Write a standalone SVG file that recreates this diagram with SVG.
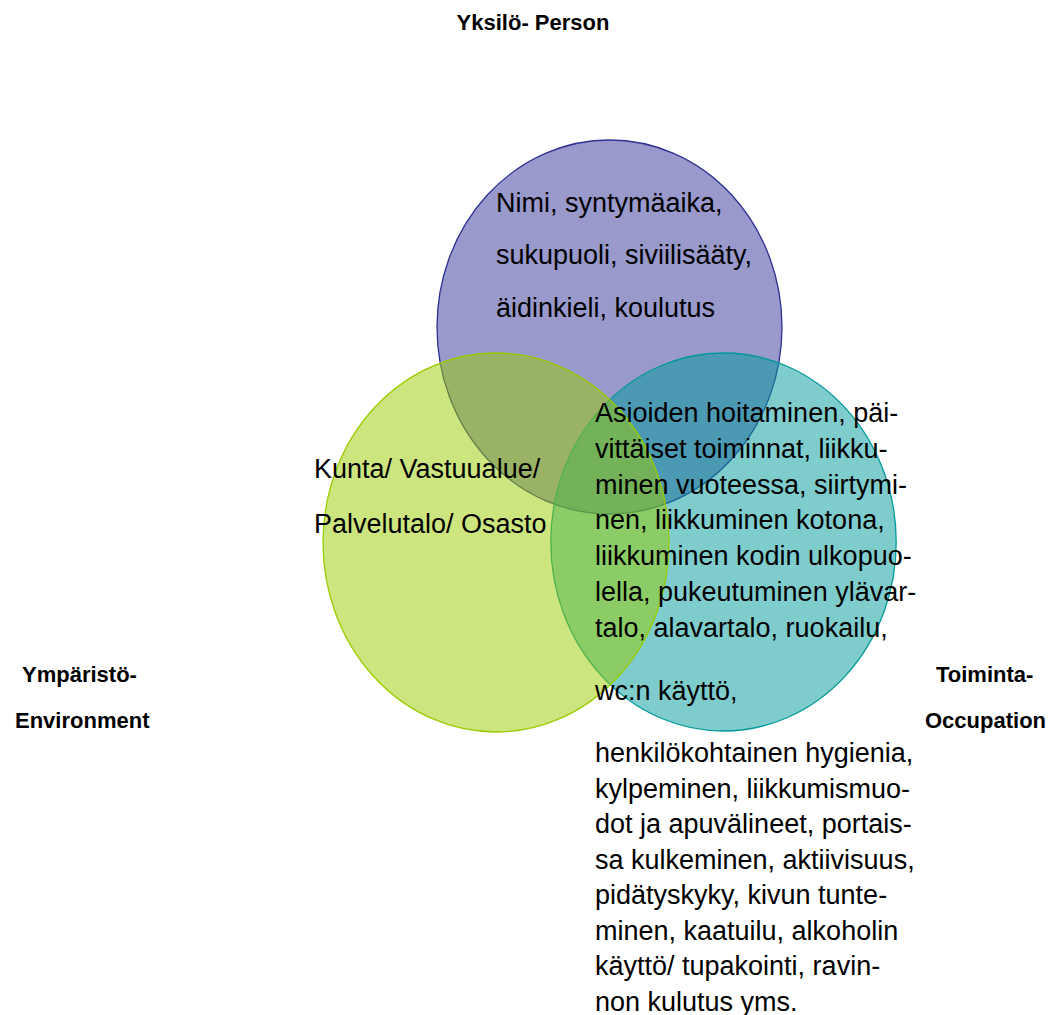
<svg xmlns="http://www.w3.org/2000/svg" width="1052" height="1015" viewBox="0 0 1052 1015">
  <style>
    .circle { stroke-width: 1.3; }
    .person { fill: rgba(51,51,153,0.5); stroke: #2E3192; }
    .occupation { fill: rgba(0,153,153,0.5); stroke: #009999; }
    .environment { fill: rgba(153,204,0,0.5); stroke: #99CC00; }
    .body { font-family: "Liberation Sans", Arial, sans-serif; font-size: 27px; fill: #000; }
    .label { font-family: "Liberation Sans", Arial, sans-serif; font-size: 22px; font-weight: bold; fill: #000; }
  </style>
  <rect width="1052" height="1015" fill="#ffffff"/>

  <g id="node-person">
    <ellipse class="circle person" cx="609.5" cy="327" rx="172.5" ry="187"/>
  </g>
  <g id="node-occupation">
    <ellipse class="circle occupation" cx="723.5" cy="542" rx="172.7" ry="189"/>
  </g>
  <g id="node-environment">
    <ellipse class="circle environment" cx="496" cy="542.5" rx="173" ry="189.5"/>
  </g>

  <g id="text-person">
    <text class="body" x="496" y="212">Nimi, syntymäaika,</text>
    <text class="body" x="496" y="264">sukupuoli, siviilisääty,</text>
    <text class="body" x="496" y="317">äidinkieli, koulutus</text>
  </g>

  <g id="text-environment">
    <text class="body" x="314" y="478">Kunta/ Vastuualue/</text>
    <text class="body" x="314" y="533">Palvelutalo/ Osasto</text>
  </g>

  <g id="text-occupation">
    <text class="body" x="595" y="422">Asioiden hoitaminen, päi-</text>
    <text class="body" x="595" y="457.8">vittäiset toiminnat, liikku-</text>
    <text class="body" x="595" y="493.6">minen vuoteessa, siirtymi-</text>
    <text class="body" x="595" y="529.4">nen, liikkuminen kotona,</text>
    <text class="body" x="595" y="565.2">liikkuminen kodin ulkopuo-</text>
    <text class="body" x="595" y="601">lella, pukeutuminen ylävar-</text>
    <text class="body" x="595" y="636.8">talo, alavartalo, ruokailu,</text>
    <text class="body" x="595" y="700">wc:n käyttö,</text>
    <text class="body" x="595" y="762">henkilökohtainen hygienia,</text>
    <text class="body" x="595" y="797.5">kylpeminen, liikkumismuo-</text>
    <text class="body" x="595" y="833">dot ja apuvälineet, portais-</text>
    <text class="body" x="595" y="868.5">sa kulkeminen, aktiivisuus,</text>
    <text class="body" x="595" y="904">pidätyskyky, kivun tunte-</text>
    <text class="body" x="595" y="939.5">minen, kaatuilu, alkoholin</text>
    <text class="body" x="595" y="975">käyttö/ tupakointi, ravin-</text>
    <text class="body" x="595" y="1010.5">non kulutus yms.</text>
  </g>

  <g id="label-person">
    <text class="label" x="533" y="30" text-anchor="middle">Yksilö- Person</text>
  </g>
  <g id="label-environment">
    <text class="label" x="22" y="682">Ympäristö-</text>
    <text class="label" x="15" y="728">Environment</text>
  </g>
  <g id="label-occupation">
    <text class="label" x="936" y="682">Toiminta-</text>
    <text class="label" x="925" y="728">Occupation</text>
  </g>
</svg>
